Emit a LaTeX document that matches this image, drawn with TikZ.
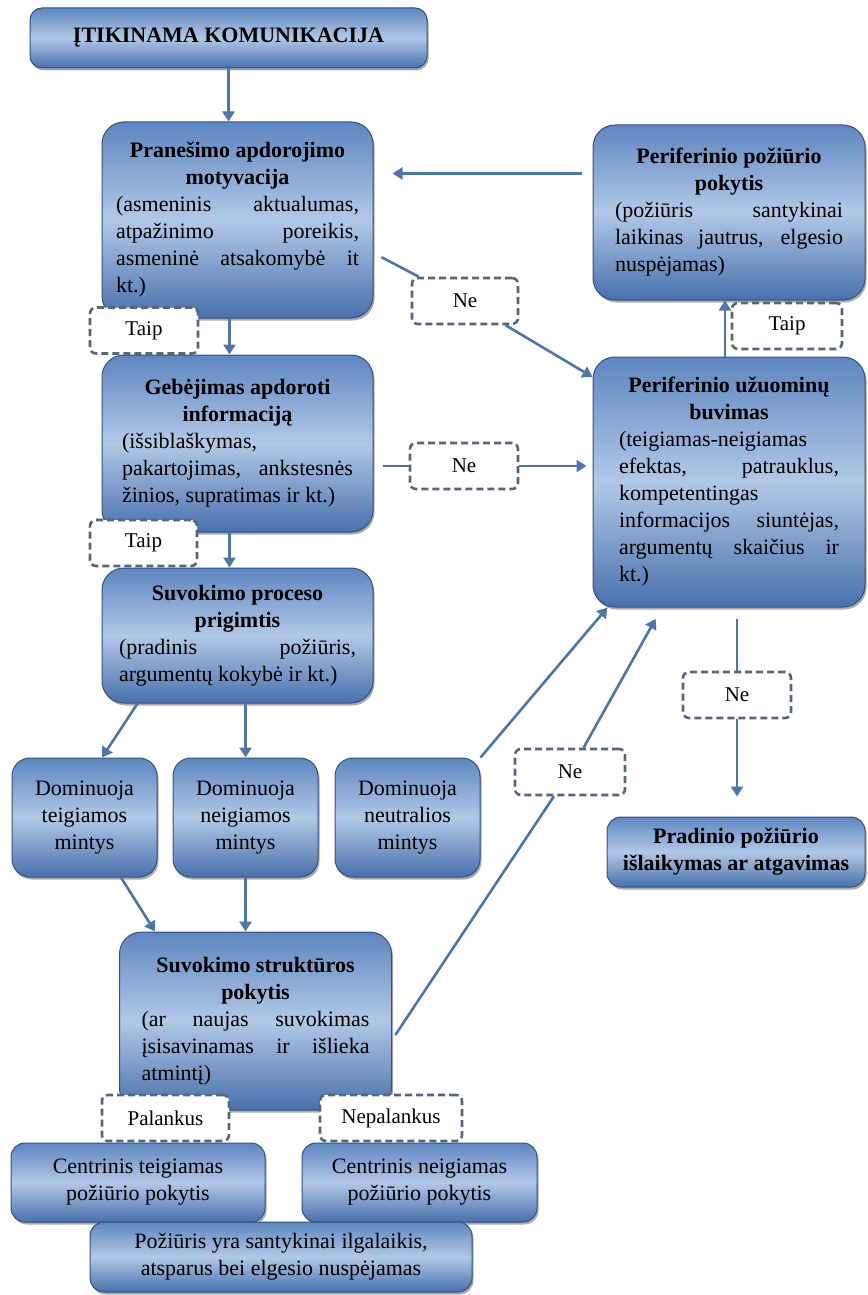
\documentclass[tikz,border=0pt]{standalone}
\usepackage{fontspec}
\setmainfont{Liberation Serif}
\usetikzlibrary{arrows.meta,shadows}
\setlength{\parindent}{0pt}

\definecolor{boxtop}{RGB}{94,134,192}
\definecolor{boxmid}{RGB}{178,200,231}
\definecolor{boxbot}{RGB}{72,112,172}
\definecolor{boxedge}{RGB}{52,82,126}
\definecolor{linkblue}{RGB}{78,118,168}
\definecolor{dashgray}{RGB}{88,102,122}

\newcommand{\antr}[1]{{\centering\bfseries #1\par}}

\tikzset{
	blok/.style={draw=boxedge, line width=1pt, rounded corners=22pt,
		top color=boxtop, bottom color=boxbot, middle color=boxmid,
		drop shadow={shadow xshift=1.5pt, shadow yshift=-2.5pt, fill=black!60, opacity=0.55},
		font=\fontsize{22}{27}\selectfont, inner ysep=0pt},
	tekstas/.style={blok, align=justify, inner xsep=22pt},
	ats/.style={draw=dashgray, line width=2.6pt, dash pattern=on 7pt off 4pt,
		rounded corners=6pt, fill=white, font=\fontsize{21}{26}\selectfont,
		minimum height=46pt},
	rodykle/.style={draw=linkblue, line width=2.6pt, -{Triangle[width=12pt,length=10pt]}},
	linija/.style={draw=linkblue, line width=2.6pt},
}

\begin{document}
\begin{tikzpicture}[x=1pt, y=-1pt]
			%%%%% START %%%%%
			\useasboundingbox (0,0) rectangle (867,1295);
			\fill[white] (0,0) rectangle (867,1295);
			
			\node[blok, rounded corners=12pt, minimum width=397pt, minimum height=60pt, font=\fontsize{22}{27}\selectfont\bfseries] (itik) at (228.5,38) {ĮTIKINAMA KOMUNIKACIJA};
			
			\node[tekstas, inner xsep=14pt, text width=243pt, minimum height=196pt] (motyv) at (237.5,220) {\antr{Pranešimo apdorojimo\\ motyvacija}(asmeninis aktualumas,\linebreak atpažinimo poreikis,\linebreak asmeninė atsakomybė it\linebreak kt.)};
			\node[tekstas, inner xsep=20pt, text width=231pt, minimum height=177pt] (gebej) at (237.5,443.5) {\antr{Gebėjimas apdoroti\\ informaciją}(išsiblaškymas,\linebreak pakartojimas, ankstesnės\linebreak žinios, supratimas ir kt.)};
			\node[tekstas, inner xsep=17pt, text width=237pt, minimum height=135pt] (suvok) at (237.5,635.5) {\antr{Suvokimo proceso\\ prigimtis}(pradinis požiūris,\linebreak argumentų kokybė ir kt.)};
			
			\node[tekstas, text width=228pt, minimum height=175pt] (perpok) at (729,212.5) {\antr{Periferinio požiūrio\\ pokytis}(požiūris santykinai\linebreak laikinas jautrus, elgesio\linebreak nuspėjamas)};
			\node[tekstas, inner xsep=26pt, text width=220pt, minimum height=250pt] (peruzu) at (729,482) {\antr{Periferinio užuominų\\ buvimas}(teigiamas-neigiamas\linebreak efektas, patrauklus,\linebreak kompetentingas\linebreak informacijos siuntėjas,\linebreak argumentų skaičius ir\linebreak kt.)};
			
			\node[blok, rounded corners=18pt, align=center, minimum width=145pt, minimum height=119pt] (teig) at (84.5,817.5) {Dominuoja\\ teigiamos\\ mintys};
			\node[blok, rounded corners=18pt, align=center, minimum width=145pt, minimum height=119pt] (neig) at (245.5,817.5) {Dominuoja\\ neigiamos\\ mintys};
			\node[blok, rounded corners=18pt, align=center, minimum width=145pt, minimum height=119pt] (neutr) at (407.5,817.5) {Dominuoja\\ neutralios\\ mintys};
			
			\node[blok, rounded corners=14pt, align=center, minimum width=258pt, minimum height=70pt, font=\fontsize{22}{27}\selectfont\bfseries] (pradin) at (736,852) {Pradinio požiūrio\\ išlaikymas ar atgavimas};
			
			\node[tekstas, text width=228pt, minimum height=178pt] (strukt) at (255.5,1021) {\antr{Suvokimo struktūros\\ pokytis}(ar naujas suvokimas\linebreak įsisavinamas ir išlieka\linebreak atmintį)};
			
			\node[ats, minimum width=108pt] (taip1) at (144,330.5) {Taip};
			\node[ats, minimum width=107pt] (taip2) at (143.5,543) {Taip};
			\node[ats, minimum width=110pt] (taip3) at (787,326) {Taip};
			\node[ats, minimum width=106pt] (ne1) at (465,301) {Ne};
			\node[ats, minimum width=108pt] (ne2) at (464,466) {Ne};
			\node[ats, minimum width=108pt] (ne3) at (737,695) {Ne};
			\node[ats, minimum width=110pt] (ne4) at (570,772) {Ne};
			\node[ats, minimum width=127pt] (palank) at (165.5,1118) {Palankus};
			\node[ats, minimum width=142pt] (nepal) at (391,1118) {Nepalankus};
			
			\node[blok, rounded corners=14pt, align=center, minimum width=254pt, minimum height=79pt] (centteig) at (138,1182.5) {Centrinis teigiamas\\ požiūrio pokytis};
			\node[blok, rounded corners=14pt, align=center, minimum width=235pt, minimum height=79pt] (centneig) at (419.5,1182.5) {Centrinis neigiamas\\ požiūrio pokytis};
			\node[blok, rounded corners=14pt, align=center, minimum width=382pt, minimum height=70pt] (ilgal) at (281,1257) {Požiūris yra santykinai ilgalaikis,\\ atsparus bei elgesio nuspėjamas};
			
			\draw[rodykle] (itik.south) -- (itik.south |- motyv.north);
			\draw[rodykle] ([xshift=-8pt]motyv.south) -- ([xshift=-8pt]gebej.north);
			\draw[rodykle] ([xshift=-8pt]gebej.south) -- ([xshift=-8pt]suvok.north);
			\draw[rodykle, shorten <=11pt, shorten >=19pt] ([yshift=39pt]perpok.west) -- ([yshift=39pt]perpok.west -| motyv.east);
			\draw[linija, shorten <=9pt] ([yshift=-33pt]motyv.east) -- (ne1);
			\draw[rodykle] (ne1) -- ([yshift=105pt]peruzu.west);
			\draw[linija, shorten <=9pt] (gebej.east |- ne2) -- (ne2);
			\draw[rodykle, shorten >=6pt] (ne2) -- (peruzu.west |- ne2);
			\draw[rodykle] ([xshift=-4pt]peruzu.north) -- ([xshift=-4pt]peruzu.north |- perpok.south);
			\draw[linija, shorten <=11pt] (peruzu.south -| ne3) -- (ne3);
			\draw[rodykle, shorten >=20pt] (ne3) -- (ne3 |- pradin.north);
			
			\draw[rodykle] ([xshift=-100pt]suvok.south) -- ([xshift=17.5pt]teig.north);
			\draw[rodykle] (suvok.south -| neig.north) -- (neig.north);
			\draw[rodykle] ([xshift=36.5pt]teig.south) -- ([xshift=-100.5pt]strukt.north);
			\draw[rodykle] (neig.south) -- (neig.south |- strukt.north);
			\draw[rodykle] (neutr.north east) -- ([xshift=15pt]peruzu.south west);
			\draw[linija, shorten <=6pt] ([yshift=-19pt]strukt.east) -- (ne4);
			\draw[rodykle, shorten >=13pt] (ne4) -- ([xshift=-67pt]peruzu.south);
			%%%%% END %%%%%
\end{tikzpicture}
\end{document}
